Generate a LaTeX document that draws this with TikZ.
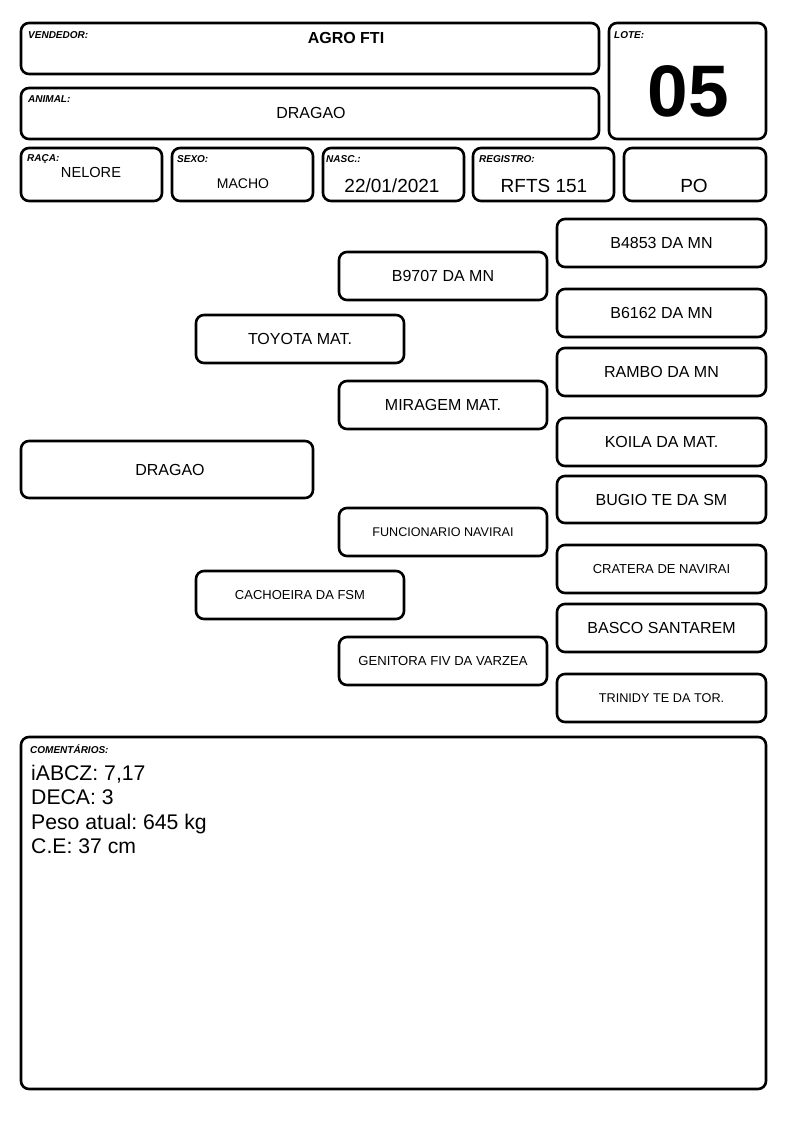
\documentclass[tikz,border=0pt]{standalone}
\usepackage{fontspec}
\setmainfont{Liberation Sans}
\newcommand\fs[1]{\fontsize{#1}{#1}\selectfont}
\begin{document}
\frenchspacing
\begin{tikzpicture}[x=1pt,y=-1pt,
  box/.style={draw, line width=2.6pt, rounded corners=8pt, inner sep=0pt, align=center, font=\fs{16}},
  lab/.style={anchor=north west, inner sep=0pt, font=\fs{10}\bfseries\itshape},
  val/.style={inner sep=0pt, anchor=center}]
\path[use as bounding box, fill=white] (0,0) rectangle (794,1123);
% header
\node[box, minimum width=578pt, minimum height=51pt] (vend) at (310,48.5) {};
\node[box, minimum width=578pt, minimum height=51pt] (anim) at (310,113.5) {};
\node[box, minimum width=157pt, minimum height=116pt] (lote) at (687.5,81) {};
\node[lab] (lvend) at (28,31) {VENDEDOR:};
\node[lab] (lanim) at (28,95) {ANIMAL:};
\node[lab] (llote) at (614,31) {LOTE:};
\node[val, font=\fs{16}\bfseries] (tvend) at (346,38) {AGRO FTI};
\node[val, font=\fs{16}] (tanim) at (311,113) {DRAGAO};
\node[val, font=\fs{73}\bfseries] (tlote) at (688,91) {05};
% row 3
\node[box, minimum width=141pt, minimum height=53pt] (raca) at (91.5,174.5) {};
\node[box, minimum width=141pt, minimum height=53pt] (sexo) at (242.5,174.5) {};
\node[box, minimum width=141pt, minimum height=53pt] (nasc) at (393.5,174.5) {};
\node[box, minimum width=141pt, minimum height=53pt] (reg) at (543.5,174.5) {};
\node[box, minimum width=142pt, minimum height=53pt] (po) at (695,174.5) {};
\node[lab] (lraca) at (27,154) {RAÇA:};
\node[lab] (lsexo) at (177,155) {SEXO:};
\node[lab] (lnasc) at (326,155) {NASC.:};
\node[lab] (lreg) at (479,155) {REGISTRO:};
\node[val, font=\fs{14.6}] (traca) at (91,172) {NELORE};
\node[val, font=\fs{14}] (tsexo) at (243,184) {MACHO};
\node[val, font=\fs{19}] (tnasc) at (392,186) {22/01/2021};
\node[val, font=\fs{19}] (treg) at (544,186) {RFTS 151};
\node[val, font=\fs{19}] (tpo) at (694,186) {PO};
% pedigree
\node[box, minimum width=292pt, minimum height=57pt] (p0) at (167,469.5) {\hspace*{6pt}DRAGAO};
\node[box, minimum width=208pt, minimum height=48pt] (p1) at (300,339) {TOYOTA MAT.};
\node[box, minimum width=208pt, minimum height=48pt, font=\fs{13}] (p2) at (300,595) {CACHOEIRA DA FSM};
\node[box, minimum width=208pt, minimum height=48pt] (p3) at (443,276) {B9707 DA MN};
\node[box, minimum width=208pt, minimum height=48pt] (p4) at (443,405) {MIRAGEM MAT.};
\node[box, minimum width=208pt, minimum height=48pt, font=\fs{12.6}] (p5) at (443,532) {FUNCIONARIO NAVIRAI};
\node[box, minimum width=208pt, minimum height=48pt, font=\fs{13.1}] (p6) at (443,661) {GENITORA FIV DA VARZEA};
\node[box, minimum width=209pt, minimum height=48pt] (p7) at (661.5,243) {B4853 DA MN};
\node[box, minimum width=209pt, minimum height=48pt] (p8) at (661.5,313) {B6162 DA MN};
\node[box, minimum width=209pt, minimum height=48pt] (p9) at (661.5,372) {RAMBO DA MN};
\node[box, minimum width=209pt, minimum height=48pt] (p10) at (661.5,442) {KOILA DA MAT.};
\node[box, minimum width=209pt, minimum height=47pt] (p11) at (661.5,499.5) {BUGIO TE DA SM};
\node[box, minimum width=209pt, minimum height=48pt, font=\fs{13}] (p12) at (661.5,569) {CRATERA DE NAVIRAI};
\node[box, minimum width=209pt, minimum height=48pt, font=\fs{16}] (p13) at (661.5,628) {BASCO SANTAREM};
\node[box, minimum width=209pt, minimum height=48pt, font=\fs{12.7}] (p14) at (661.5,698) {TRINIDY TE DA TOR.};
% comments
\node[box, minimum width=745pt, minimum height=352pt] (com) at (393.5,913) {};
\node[lab] (lcom) at (30,744) {COMENTÁRIOS:};
\node[anchor=north west, inner sep=0pt, align=left, font=\fontsize{21.2}{24.3}\selectfont] (tcom) at (31,765) {iABCZ: 7,17\\DECA: 3\\Peso atual: 645 kg\\C.E: 37 cm};
\end{tikzpicture}
\end{document}
